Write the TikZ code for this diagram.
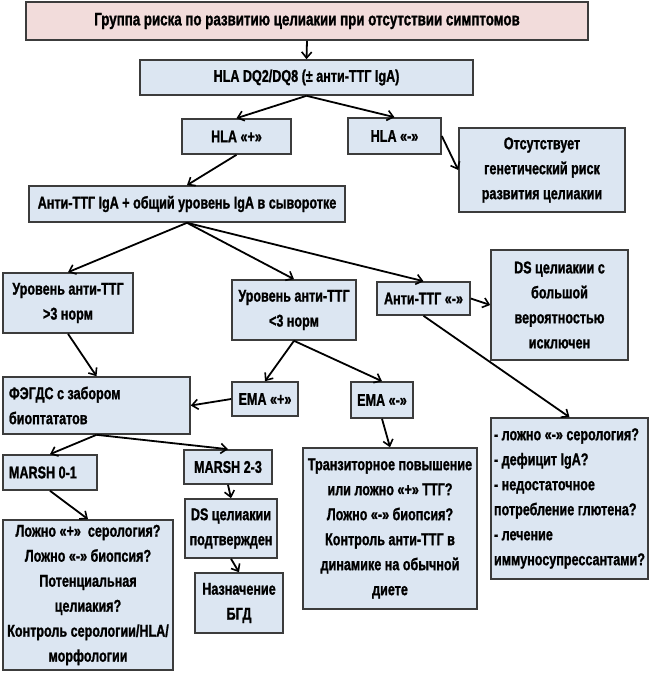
\documentclass[tikz,border=0pt]{standalone}
\usepackage{fontspec}
\setmainfont{Liberation Sans}[FakeStretch=0.74,BoldFeatures={FakeBold=1.2}]
\usetikzlibrary{arrows.meta}
\definecolor{boxfill}{HTML}{DCE6F2}
\definecolor{headfill}{HTML}{F2DCDB}
\definecolor{boxline}{HTML}{3C3C3C}
\tikzset{
    box/.style={draw=boxline,line width=1.6pt,fill=boxfill,inner sep=3pt,align=center,
        font=\bfseries\fontsize{17}{25}\selectfont},
    headbox/.style={box,fill=headfill,font=\bfseries\fontsize{18}{25}\selectfont},
    leftbox/.style={box,align=flush left},
    link/.style={line width=1.8pt,-{Straight Barb[length=6pt,width=10pt,line width=1.6pt]}}
}
\begin{document}
\begin{tikzpicture}[x=1pt,y=-1pt]
            \useasboundingbox (0,0) rectangle (651,681);
            % top of the scheme
            \node[headbox,minimum width=562pt,minimum height=38pt] (risk) at (307,21)
                {Группа риска по развитию целиакии при отсутствии симптомов};
            \node[box,minimum width=333pt,minimum height=35pt] (hla) at (306.5,77.5)
                {HLA DQ2/DQ8 (± анти-ТТГ IgA)};
            \node[box,minimum width=109pt,minimum height=35pt] (hlapos) at (236.5,136.5) {HLA «+»};
            \node[box,minimum width=93pt,minimum height=36pt] (hlaneg) at (394.5,136) {HLA «-»};
            \node[box,minimum width=166pt,minimum height=84pt] (norisk) at (542,170)
                {Отсутствует\\генетический риск\\развития целиакии};
            \node[box,minimum width=316pt,minimum height=36pt] (ttg) at (187,204)
                {Анти-ТТГ IgA + общий уровень IgA в сыворотке};
            % serology
            \node[box,minimum width=130pt,minimum height=60pt] (high) at (68,303)
                {Уровень анти-ТТГ\\>3 норм};
            \node[box,minimum width=124pt,minimum height=60pt] (low) at (294,310)
                {Уровень анти-ТТГ\\<3 норм};
            \node[box,minimum width=93pt,minimum height=33pt] (ttgneg) at (423.5,298.5) {Анти-ТТГ «-»};
            \node[box,minimum width=137pt,minimum height=110pt] (excl) at (559.5,305)
                {DS целиакии с\\большой\\вероятностью\\исключен};
            \node[leftbox,minimum width=187pt,minimum height=57pt,text width=175pt] (egd) at (96.5,405.5)
                {ФЭГДС с забором\\биоптататов};
            \node[box,minimum width=66pt,minimum height=34pt] (emapos) at (265,399) {EMA «+»};
            \node[box,minimum width=62pt,minimum height=36pt] (emaneg) at (382,400) {EMA «-»};
            % biopsy
            \node[leftbox,minimum width=94pt,minimum height=35pt,text width=82pt] (marsha) at (50,472.5) {MARSH 0-1};
            \node[box,minimum width=88pt,minimum height=34pt] (marshb) at (228,467) {MARSH 2-3};
            \node[box,minimum width=92pt,minimum height=59pt] (dsok) at (231,528.5)
                {DS целиакии\\подтвержден};
            \node[box,minimum width=88pt,minimum height=60pt] (gfd) at (239,603)
                {Назначение\\БГД};
            \node[box,minimum width=170pt,minimum height=150pt] (falsepos) at (88,595)
                {Ложно «+»~ серология?\\Ложно «-» биопсия?\\Потенциальная\\целиакия?\\Контроль серологии/HLA/\\морфологии};
            \node[box,minimum width=174pt,minimum height=161pt] (trans) at (390,528.5)
                {Транзиторное повышение\\или ложно «+» ТТГ?\\Ложно «-» биопсия?\\Контроль анти-ТТГ в\\динамике на обычной\\диете};
            \node[leftbox,minimum width=157pt,minimum height=161pt,text width=151pt] (why) at (569.5,498.5)
                {- ложно «-» серология?\\- дефицит IgA?\\- недостаточное\\потребление глютена?\\- лечение\\иммуносупрессантами?};
            % arrows
            \draw[link] (risk.south) -- (hla.north);
            \draw[link] (hla.south) -- (hlapos.north);
            \draw[link] (hla.south) -- (hlaneg.north);
            \draw[link] (hlaneg.east) -- (norisk.west);
            \draw[link] (hlapos.south) -- (ttg.north);
            \draw[link] (ttg.south) -- (high.north);
            \draw[link] (ttg.south) -- (low.north);
            \draw[link] (ttg.south) -- (ttgneg.north);
            \draw[link] (ttgneg.east) -- (excl.west);
            \draw[link] (ttgneg.south) -- (why.north);
            \draw[link] (high.south) -- (egd.north);
            \draw[link] (low.south) -- (emapos.north);
            \draw[link] (low.south) -- (emaneg.north);
            \draw[link] (emapos.west) -- (egd.east);
            \draw[link] (emaneg.south) -- (trans.north);
            \draw[link] (egd.south) -- (marsha.north);
            \draw[link] (egd.south) -- (marshb.north);
            \draw[link] (marsha.south) -- (falsepos.north);
            \draw[link] (marshb.south) -- (dsok.north);
            \draw[link] (dsok.south) -- (gfd.north);
\end{tikzpicture}
\end{document}
